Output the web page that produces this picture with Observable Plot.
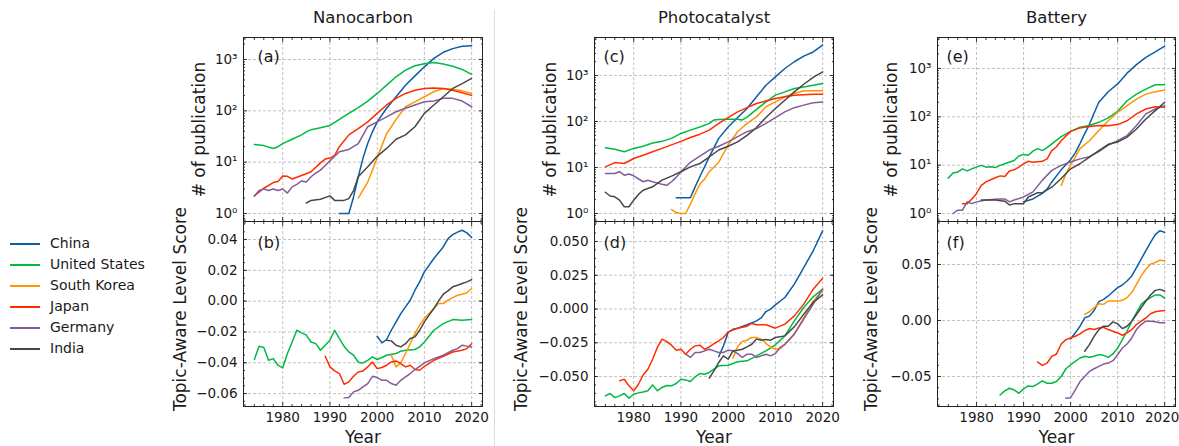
<!DOCTYPE html>
<html><head><meta charset="utf-8">
<script src="https://cdn.jsdelivr.net/npm/d3@7"></script>
<script src="https://cdn.jsdelivr.net/npm/@observablehq/plot@0.6"></script>
<style>
body{margin:0;background:#fff;font-family:"DejaVu Sans",sans-serif;color:#1a1a1a;}
#root{position:relative;width:1179px;height:446px;overflow:hidden;background:#fff;}
.pan{position:absolute;}
.sep{position:absolute;left:494px;top:10px;width:1px;height:436px;background:#dcdcdc;}
.leg{position:absolute;left:10px;font-size:14px;line-height:14px;}
.leg .sw{position:absolute;left:0;width:30px;height:2px;}
.leg .lb{position:absolute;left:40px;white-space:nowrap;}
</style></head><body><div id="root"><div class="sep"></div></div><script>
const countries = ["China","United States","South Korea","Japan","Germany","India"];
const colors = ["#0C5DA5","#00B945","#FF9500","#FF2C00","#845B97","#474747"];
const columnTitles = ["Nanocarbon","Photocatalyst","Battery"];
const panelLetters = [["(a)","(b)"],["(c)","(d)"],["(e)","(f)"]];
const xTicks = [1980,1990,2000,2010,2020];
const logTicks = [1,10,100,1000];
const logTickLabels = ["10⁰","10¹","10²","10³"];
const nanoScoreTicks = [-0.06,-0.04,-0.02,0,0.02,0.04];
const photoScoreTicks = [-0.05,-0.025,0,0.025,0.05];
const batteryScoreTicks = [-0.05,0,0.05];
const pubLabel = "# of publication";
const scoreLabel = "Topic-Aware Level Score";
const xLabel = "Year";

// (a) Nanocarbon: number of publications
const nanoPub = {
  "China": [[1992,1],[1994,1],[1995,2.1],[1996,5.2],[1997,12],[1998,23],[1999,39],[2000,61],[2002,112],[2004,188],[2006,316],[2008,480],[2010,720],[2012,1050],[2014,1380],[2016,1630],[2018,1820],[2020,1850]],
  "United States": [[1974,22],[1976,21],[1978,18.5],[1979,20],[1980,23],[1982,28],[1984,34],[1985,39],[1986,43],[1988,47],[1990,52],[1992,68],[1994,89],[1996,115],[1998,155],[2000,218],[2002,316],[2004,460],[2006,620],[2008,755],[2010,830],[2012,870],[2014,815],[2016,740],[2018,640],[2020,515]],
  "South Korea": [[1996,2],[1998,4.1],[1999,7],[2000,12],[2001,21],[2002,36],[2003,49],[2004,68],[2006,120],[2008,150],[2010,188],[2012,235],[2014,273],[2016,262],[2018,245],[2020,218]],
  "Japan": [[1974,2.2],[1976,3.1],[1978,4],[1979,4.2],[1980,5.4],[1981,5.3],[1982,4.7],[1984,5.5],[1986,6.5],[1988,9.7],[1989,11.5],[1990,12],[1991,13.5],[1992,20],[1994,34],[1996,45],[1998,61],[2000,89],[2002,130],[2004,175],[2006,218],[2008,252],[2010,273],[2012,280],[2014,273],[2016,252],[2018,225],[2020,200]],
  "Germany": [[1974,2.2],[1975,2.8],[1976,3],[1977,2.8],[1978,3],[1979,2.8],[1980,3],[1981,2.5],[1982,3.3],[1983,3.7],[1984,4.3],[1985,4.1],[1986,5.2],[1987,6.1],[1988,7],[1989,8.6],[1990,10.6],[1991,13],[1992,16],[1994,17.7],[1996,23],[1998,49],[2000,61],[2002,76],[2004,96],[2006,112],[2008,130],[2010,150],[2012,156],[2014,175],[2016,175],[2018,155],[2020,120]],
  "India": [[1985,1.6],[1986,1.8],[1988,1.9],[1990,2.2],[1991,1.8],[1993,1.8],[1994,1.95],[1995,2.8],[1996,5.2],[1998,8.1],[2000,13],[2002,18.5],[2004,28],[2006,34],[2008,49],[2010,89],[2012,130],[2014,188],[2016,273],[2018,340],[2020,430]]
};
// (b) Nanocarbon: topic-aware level score
const nanoScore = {
  "China": [[2000,-0.0228],[2001,-0.0271],[2002,-0.0249],[2003,-0.0189],[2004,-0.0135],[2005,-0.0081],[2006,-0.0037],[2007,0.0006],[2008,0.0071],[2009,0.0125],[2010,0.019],[2012,0.0277],[2014,0.0352],[2015,0.0406],[2016,0.0432],[2017,0.0448],[2018,0.046],[2019,0.0443],[2020,0.0413]],
  "United States": [[1974,-0.0379],[1975,-0.0293],[1976,-0.0301],[1977,-0.0384],[1978,-0.0373],[1979,-0.0416],[1980,-0.0433],[1981,-0.034],[1982,-0.0265],[1983,-0.0189],[1984,-0.0206],[1985,-0.0221],[1986,-0.0265],[1987,-0.0276],[1988,-0.0319],[1989,-0.0286],[1990,-0.0254],[1991,-0.0189],[1992,-0.0243],[1993,-0.0293],[1994,-0.033],[1995,-0.0351],[1996,-0.0397],[1997,-0.0401],[1998,-0.0384],[1999,-0.0362],[2000,-0.0379],[2001,-0.0366],[2002,-0.0351],[2004,-0.034],[2005,-0.0325],[2006,-0.0319],[2008,-0.0314],[2009,-0.0297],[2010,-0.0265],[2012,-0.0189],[2014,-0.0146],[2016,-0.012],[2018,-0.0124],[2020,-0.012]],
  "South Korea": [[2003,-0.0351],[2004,-0.0427],[2005,-0.0401],[2006,-0.034],[2007,-0.0276],[2008,-0.021],[2009,-0.0156],[2010,-0.0113],[2011,-0.0081],[2012,-0.0048],[2013,-0.0016],[2014,-0.0016],[2015,0.0006],[2016,0.0023],[2017,0.0038],[2018,0.0045],[2019,0.0054],[2020,0.0082]],
  "Japan": [[1989,-0.0358],[1990,-0.0427],[1991,-0.0453],[1992,-0.047],[1993,-0.054],[1994,-0.0524],[1995,-0.0488],[1996,-0.046],[1997,-0.0453],[1998,-0.0427],[1999,-0.0395],[2000,-0.0438],[2001,-0.0431],[2002,-0.0416],[2003,-0.0395],[2004,-0.0388],[2005,-0.0405],[2006,-0.0427],[2007,-0.0416],[2008,-0.0444],[2009,-0.0449],[2010,-0.0423],[2012,-0.0384],[2014,-0.0358],[2016,-0.033],[2018,-0.0319],[2019,-0.0308],[2020,-0.0276]],
  "Germany": [[1993,-0.0628],[1994,-0.0626],[1995,-0.0589],[1996,-0.0579],[1997,-0.0557],[1998,-0.0535],[1999,-0.0488],[2000,-0.0496],[2001,-0.0514],[2002,-0.0514],[2003,-0.0535],[2004,-0.0546],[2005,-0.0514],[2006,-0.0492],[2007,-0.047],[2008,-0.0444],[2009,-0.0423],[2010,-0.0401],[2012,-0.0373],[2014,-0.0351],[2016,-0.0319],[2017,-0.0308],[2018,-0.0286],[2019,-0.0292],[2020,-0.0297]],
  "India": [[2002,-0.0254],[2003,-0.0258],[2004,-0.0286],[2005,-0.0297],[2006,-0.0276],[2007,-0.0243],[2008,-0.0232],[2009,-0.0189],[2010,-0.0135],[2011,-0.0091],[2012,-0.0048],[2013,0.0002],[2014,0.0045],[2015,0.0067],[2016,0.0093],[2017,0.0103],[2018,0.0114],[2019,0.0125],[2020,0.014]]
};
// (c) Photocatalyst: number of publications
const photoPub = {
  "China": [[1989,2.2],[1992,2.2],[1993,3.8],[1994,6.3],[1996,17],[1998,43],[2000,76],[2002,122],[2004,192],[2006,345],[2008,615],[2010,935],[2012,1420],[2014,1990],[2016,2640],[2018,3250],[2020,4570]],
  "United States": [[1974,27],[1976,25],[1978,22],[1980,26],[1982,29],[1984,34],[1986,37],[1988,43],[1990,55],[1992,65],[1994,76],[1996,91],[1997,108],[1998,110],[2000,112],[2002,112],[2003,108],[2004,125],[2006,183],[2008,267],[2010,374],[2012,440],[2014,520],[2016,565],[2018,615],[2020,670]],
  "South Korea": [[1988,1.22],[1989,1.05],[1990,1],[1991,1],[1992,1.6],[1993,2.7],[1994,4.3],[1995,5.6],[1996,8.1],[1998,13],[2000,31],[2002,60],[2004,91],[2006,126],[2008,209],[2010,267],[2012,345],[2014,405],[2016,465],[2018,465],[2020,465]],
  "Japan": [[1974,10.3],[1976,12.8],[1978,12.2],[1980,15.7],[1982,18.5],[1984,22],[1986,26],[1988,31],[1990,37],[1992,45],[1994,53],[1996,65],[1998,91],[2000,122],[2002,162],[2004,200],[2006,246],[2008,280],[2010,316],[2012,345],[2014,370],[2016,380],[2018,390],[2020,390]],
  "Germany": [[1974,7.4],[1976,7.4],[1977,8.1],[1978,6.8],[1979,7.2],[1980,6.6],[1982,4.9],[1983,5.3],[1984,4.9],[1986,4.3],[1987,4.1],[1988,4.9],[1989,6.1],[1990,8.1],[1992,13],[1994,17.7],[1996,24],[1998,29],[2000,36],[2002,47],[2004,60],[2006,70],[2008,91],[2010,122],[2012,162],[2014,200],[2016,227],[2018,255],[2020,267]],
  "India": [[1974,2.9],[1975,2.4],[1976,2.3],[1977,1.95],[1978,1.4],[1979,1.4],[1980,1.95],[1981,2.6],[1982,3.2],[1984,3.8],[1986,5.3],[1988,6.5],[1990,8.1],[1992,10.3],[1994,12.2],[1996,17],[1998,24],[2000,29],[2002,36],[2004,50],[2006,74],[2008,122],[2010,192],[2012,290],[2014,440],[2016,645],[2018,910],[2020,1200]]
};
// (d) Photocatalyst: topic-aware level score
const photoScore = {
  "China": [[1998,-0.0354],[1999,-0.0273],[2000,-0.0174],[2001,-0.015],[2002,-0.0142],[2004,-0.0117],[2006,-0.0088],[2007,-0.0065],[2008,-0.0019],[2009,-0.0001],[2010,0.0031],[2012,0.0085],[2014,0.0184],[2016,0.0307],[2018,0.0431],[2020,0.0579]],
  "United States": [[1974,-0.0643],[1975,-0.0626],[1976,-0.0656],[1977,-0.0643],[1978,-0.0626],[1979,-0.066],[1980,-0.0631],[1981,-0.0621],[1982,-0.0614],[1983,-0.0606],[1984,-0.0562],[1985,-0.0606],[1986,-0.0581],[1987,-0.0567],[1988,-0.0569],[1989,-0.0552],[1990,-0.052],[1991,-0.0525],[1992,-0.0537],[1993,-0.0502],[1994,-0.0478],[1995,-0.0483],[1996,-0.047],[1997,-0.0446],[1998,-0.0421],[2000,-0.0416],[2002,-0.0391],[2004,-0.0384],[2006,-0.0347],[2008,-0.031],[2010,-0.0265],[2012,-0.0199],[2014,-0.0088],[2016,0.0011],[2018,0.009],[2020,0.0147]],
  "South Korea": [[2001,-0.0364],[2002,-0.028],[2003,-0.0241],[2004,-0.0231],[2005,-0.0211],[2006,-0.0211],[2007,-0.0223],[2008,-0.0256],[2009,-0.028],[2010,-0.0298],[2011,-0.0293],[2012,-0.0265],[2014,-0.0186],[2016,-0.0063],[2018,0.006],[2020,0.0135]],
  "Japan": [[1977,-0.0532],[1978,-0.052],[1979,-0.0569],[1980,-0.0606],[1981,-0.0557],[1982,-0.0488],[1983,-0.0446],[1984,-0.0372],[1985,-0.0285],[1986,-0.0223],[1987,-0.0241],[1988,-0.0268],[1989,-0.0305],[1990,-0.0298],[1991,-0.0335],[1992,-0.0298],[1993,-0.0273],[1994,-0.0268],[1995,-0.0298],[1996,-0.028],[1997,-0.0256],[1998,-0.0236],[1999,-0.0211],[2000,-0.0169],[2002,-0.0142],[2004,-0.0127],[2005,-0.0107],[2006,-0.0117],[2008,-0.0117],[2010,-0.0142],[2012,-0.0112],[2014,-0.0051],[2016,0.0036],[2018,0.0147],[2020,0.0228]],
  "Germany": [[1991,-0.0335],[1992,-0.0359],[1993,-0.0322],[1994,-0.0322],[1995,-0.031],[1996,-0.0298],[1997,-0.031],[1998,-0.0322],[1999,-0.0322],[2000,-0.0305],[2001,-0.031],[2002,-0.033],[2003,-0.0359],[2004,-0.0335],[2005,-0.0335],[2006,-0.0359],[2007,-0.0347],[2008,-0.0335],[2009,-0.0347],[2010,-0.033],[2011,-0.0285],[2012,-0.0261],[2014,-0.0186],[2016,-0.0075],[2018,0.0036],[2020,0.0147]],
  "India": [[1996,-0.0512],[1997,-0.0458],[1998,-0.0396],[1999,-0.0347],[2000,-0.0372],[2001,-0.031],[2002,-0.0305],[2003,-0.0298],[2004,-0.028],[2005,-0.0261],[2006,-0.0223],[2007,-0.0231],[2008,-0.0226],[2009,-0.0231],[2010,-0.0211],[2012,-0.0199],[2014,-0.0132],[2016,-0.0038],[2018,0.0048],[2020,0.0105]]
};
// (e) Battery: number of publications
const batteryPub = {
  "China": [[1990,1.75],[1992,2],[1994,2.6],[1995,3.2],[1996,4.5],[1997,6],[1998,8],[2000,13],[2001,18],[2002,28],[2003,45],[2004,70],[2005,120],[2006,200],[2008,330],[2010,480],[2012,800],[2014,1200],[2016,1700],[2018,2200],[2020,2900]],
  "United States": [[1974,5.4],[1975,6.9],[1976,7.2],[1977,8.4],[1978,7.6],[1979,8.4],[1980,9.1],[1981,9.9],[1982,9.1],[1983,9.3],[1984,8.9],[1985,9.9],[1986,10.7],[1988,12.5],[1989,15.5],[1990,16.7],[1991,16],[1992,19.5],[1993,22],[1994,20],[1995,23],[1996,27.5],[1998,39],[2000,50],[2002,61],[2004,66],[2006,77],[2008,95],[2010,130],[2012,215],[2014,295],[2016,375],[2018,460],[2020,460]],
  "South Korea": [[1998,3.8],[1999,6.6],[2000,10],[2001,14.7],[2002,22],[2004,32],[2006,52],[2008,83],[2010,124],[2012,170],[2014,233],[2016,295],[2018,330],[2020,360]],
  "Japan": [[1977,1.6],[1978,1.6],[1979,2],[1980,2.6],[1981,3.8],[1982,4.5],[1983,5],[1984,5.5],[1985,6],[1986,5.8],[1987,7.6],[1988,8],[1989,9.1],[1990,10.7],[1991,12],[1992,11.5],[1994,12],[1995,13.5],[1996,20],[1997,24],[1998,32],[2000,50],[2002,59],[2004,63],[2006,66],[2008,65],[2010,69],[2012,83],[2014,115],[2016,145],[2018,162],[2020,158]],
  "Germany": [[1975,1],[1976,1.17],[1977,1.17],[1978,1.74],[1979,1.6],[1980,1.74],[1982,1.9],[1984,1.97],[1985,2],[1986,2],[1987,1.74],[1988,1.9],[1990,2.2],[1992,2.8],[1994,4.9],[1996,7.8],[1998,9.9],[2000,11.6],[2002,13.5],[2004,15],[2006,19],[2008,26],[2010,32],[2012,41],[2014,66],[2016,115],[2018,145],[2020,170]],
  "India": [[1981,1.9],[1982,1.9],[1984,1.9],[1986,1.8],[1987,1.5],[1988,1.6],[1990,1.6],[1991,2.2],[1993,2.7],[1994,2.7],[1996,3.5],[1998,5.3],[2000,8.4],[2002,10.7],[2004,14.7],[2006,20],[2008,27],[2010,30],[2012,38],[2014,56],[2016,90],[2018,134],[2020,200]]
};
// (f) Battery: topic-aware level score
const batteryScore = {
  "China": [[2000,-0.0165],[2001,-0.011],[2002,-0.0051],[2003,0.0024],[2004,0.0039],[2005,0.009],[2006,0.0168],[2007,0.0189],[2008,0.0219],[2009,0.0257],[2010,0.0293],[2011,0.0317],[2012,0.0353],[2013,0.0398],[2014,0.0473],[2015,0.0548],[2016,0.0623],[2017,0.0698],[2018,0.0767],[2019,0.0802],[2020,0.0787]],
  "United States": [[1985,-0.0665],[1986,-0.0629],[1987,-0.0605],[1988,-0.062],[1989,-0.065],[1990,-0.0611],[1991,-0.0584],[1992,-0.059],[1993,-0.0566],[1994,-0.0539],[1995,-0.056],[1996,-0.056],[1997,-0.0545],[1998,-0.05],[1999,-0.0431],[2000,-0.0395],[2001,-0.0365],[2002,-0.0335],[2003,-0.032],[2004,-0.0329],[2005,-0.032],[2006,-0.0305],[2007,-0.0311],[2008,-0.0329],[2009,-0.0299],[2010,-0.0246],[2011,-0.0171],[2012,-0.0096],[2013,-0.0006],[2014,0.0069],[2015,0.0144],[2016,0.018],[2017,0.0204],[2018,0.0228],[2019,0.0228],[2020,0.0198]],
  "South Korea": [[2003,0.0054],[2004,0.0078],[2005,0.0114],[2006,0.015],[2007,0.0144],[2008,0.0174],[2010,0.0174],[2011,0.018],[2012,0.0204],[2013,0.0249],[2014,0.0323],[2015,0.0398],[2016,0.0458],[2017,0.0503],[2018,0.0518],[2019,0.0539],[2020,0.0533]],
  "Japan": [[1993,-0.0371],[1994,-0.0401],[1995,-0.038],[1996,-0.032],[1997,-0.0299],[1998,-0.021],[1999,-0.0171],[2000,-0.0156],[2001,-0.0141],[2002,-0.012],[2003,-0.009],[2004,-0.0072],[2005,-0.0081],[2006,-0.0066],[2007,-0.006],[2008,-0.0081],[2009,-0.0096],[2010,-0.0111],[2011,-0.0132],[2012,-0.0111],[2013,-0.0081],[2014,-0.0036],[2015,-0.0006],[2016,0.0024],[2017,0.006],[2018,0.0078],[2019,0.0084],[2020,0.009]],
  "Germany": [[1999,-0.0695],[2000,-0.0689],[2001,-0.062],[2002,-0.0545],[2003,-0.05],[2004,-0.0455],[2005,-0.0431],[2006,-0.041],[2007,-0.0389],[2008,-0.038],[2009,-0.0359],[2010,-0.0305],[2011,-0.0246],[2012,-0.021],[2013,-0.0156],[2014,-0.0081],[2015,-0.0036],[2016,-0.0006],[2017,-0.0006],[2018,-0.0012],[2019,-0.0021],[2020,-0.0021]],
  "India": [[2003,-0.0275],[2004,-0.0216],[2005,-0.0141],[2006,-0.0081],[2007,-0.0051],[2008,-0.0051],[2009,-0.0012],[2010,-0.003],[2011,-0.0072],[2012,-0.0051],[2013,-0.0006],[2014,0.0054],[2015,0.0114],[2016,0.0174],[2017,0.0228],[2018,0.0269],[2019,0.0278],[2020,0.0263]]
};

const root = document.getElementById("root");
const xDomain = [1971.7, 2022.3];
const xMinor = d3.range(1972, 2023, 2).filter(v => v % 10 !== 0);
function logMinor(dom) {
  const out = [];
  for (let e = -1; e <= 4; e++) for (let k = 2; k <= 9; k++) {
    const v = k * Math.pow(10, e);
    if (v >= dom[0] && v <= dom[1]) out.push(v);
  }
  return out;
}
function linMinor(dom, step) {
  const out = [];
  const s = Math.ceil(dom[0] / step), e = Math.floor(dom[1] / step);
  for (let i = s; i <= e; i++) out.push(+(i * step).toFixed(6));
  return out;
}
const fmtLog = d => logTickLabels[logTicks.indexOf(d)];
const gridStyle = {stroke: "#b4b4b4", strokeOpacity: 1, strokeDasharray: "3,2", strokeWidth: 0.8};
const tickStyle = {label: null, tickFormat: () => "", stroke: "#222", strokeWidth: 0.9};

function panel(o) {
  const {series, left, top, mL, mR, mT, mB, fw, fh, yType, yDomain, yTicks, yMinor, yFmt, letter, ldx, ldy, bottom, lastDx, title, ylabel, ylDx, ylDy} = o;
  const marks = [
    Plot.gridX(xTicks, gridStyle),
    Plot.gridY(yTicks, gridStyle),
    ...countries.map((c, i) => Plot.line(series[c], {x: d => d[0], y: d => d[1], stroke: colors[i], strokeWidth: 1.5})),
    Plot.frame({stroke: "#222", strokeWidth: 1}),
    Plot.axisX(xTicks, {...tickStyle, anchor: "bottom", tickSize: -4}),
    Plot.axisX(xMinor, {...tickStyle, anchor: "bottom", tickSize: -2}),
    Plot.axisX(xTicks, {...tickStyle, anchor: "top", tickSize: -4}),
    Plot.axisX(xMinor, {...tickStyle, anchor: "top", tickSize: -2}),
    Plot.axisY(yTicks, {...tickStyle, anchor: "left", tickSize: -4}),
    Plot.axisY(yMinor, {...tickStyle, anchor: "left", tickSize: -2}),
    Plot.axisY(yTicks, {...tickStyle, anchor: "right", tickSize: -4}),
    Plot.axisY(yMinor, {...tickStyle, anchor: "right", tickSize: -2}),
    Plot.axisY(yTicks, {anchor: "left", tickSize: 0, tickPadding: 6, tickFormat: yFmt, label: null, fontSize: 13.5}),
    Plot.text([letter], {text: d => d, frameAnchor: "top-left", dx: ldx, dy: ldy, fontSize: 16, textAnchor: "start", lineAnchor: "middle"}),
    Plot.text([ylabel], {text: d => d, frameAnchor: "left", dx: ylDx, dy: ylDy, rotate: -90, fontSize: 17, textAnchor: "middle", lineAnchor: "middle"})
  ];
  if (bottom) {
    const lastTick = xTicks[xTicks.length - 1];
    marks.push(Plot.axisX(xTicks.slice(0, -1), {anchor: "bottom", tickSize: 0, tickPadding: 5.5, tickFormat: d => String(d), label: null, fontSize: 13.5}));
    marks.push(Plot.axisX([lastTick], {anchor: "bottom", tickSize: 0, tickPadding: 5.5, tickFormat: d => String(d), label: null, fontSize: 13.5, dx: lastDx}));
    marks.push(Plot.text([xLabel], {text: d => d, frameAnchor: "bottom", dy: 31, fontSize: 17, textAnchor: "middle", lineAnchor: "middle"}));
  }
  if (title) marks.push(Plot.text([title], {text: d => d, frameAnchor: "top", dy: -20, fontSize: 16.5, textAnchor: "middle", lineAnchor: "middle"}));
  const svg = Plot.plot({
    width: fw + mL + mR, height: fh + mT + mB,
    marginLeft: mL, marginRight: mR, marginTop: mT, marginBottom: mB,
    x: {domain: xDomain},
    y: {type: yType, domain: yDomain},
    style: {fontFamily: "DejaVu Sans", fontSize: "13.5px", color: "#1a1a1a", background: "transparent", overflow: "visible"},
    marks
  });
  const div = document.createElement("div");
  div.className = "pan";
  div.style.left = (left - mL) + "px";
  div.style.top = (top - mT) + "px";
  div.appendChild(svg);
  root.appendChild(div);
}

const cols = [
  {left: 243, fw: 239, mL: 93, mR: 8, lastDx: 0, pub: nanoPub, score: nanoScore, pubDom: [0.698, 2683], scoreDom: [-0.0684, 0.0517], scoreTicks: nanoScoreTicks, scoreStep: 0.005, scoreFmt: d3.format(".2f"), ldx: 14, pubDx: -44, scoreDx: -63},
  {left: 594, fw: 239, mL: 97, mR: 4, lastDx: 0, pub: photoPub, score: photoScore, pubDom: [0.67, 6700], scoreDom: [-0.0722, 0.0648], scoreTicks: photoScoreTicks, scoreStep: 0.00625, scoreFmt: d3.format(".3f"), ldx: 9, pubDx: -44, scoreDx: -73},
  {left: 937, fw: 238, mL: 97, mR: 4, lastDx: -2.5, pub: batteryPub, score: batteryScore, pubDom: [0.683, 4375], scoreDom: [-0.0768, 0.0884], scoreTicks: batteryScoreTicks, scoreStep: 0.01, scoreFmt: d3.format(".2f"), ldx: 9, pubDx: -45.5, scoreDx: -66}
];
cols.forEach((c, i) => {
  panel({series: c.pub, left: c.left, top: 37, mL: c.mL, mR: c.mR, mT: 37, mB: 1, fw: c.fw, fh: 184,
    yType: "log", yDomain: c.pubDom, yTicks: logTicks, yMinor: logMinor(c.pubDom), yFmt: fmtLog,
    letter: panelLetters[i][0], ldx: c.ldx, ldy: 19, bottom: false, lastDx: 0, title: columnTitles[i],
    ylabel: pubLabel, ylDx: c.pubDx, ylDy: 0});
  panel({series: c.score, left: c.left, top: 221, mL: c.mL, mR: c.mR, mT: 1, mB: 40, fw: c.fw, fh: 185,
    yType: "linear", yDomain: c.scoreDom, yTicks: c.scoreTicks, yMinor: linMinor(c.scoreDom, c.scoreStep), yFmt: c.scoreFmt,
    letter: panelLetters[i][1], ldx: c.ldx, ldy: 21, bottom: true, lastDx: c.lastDx, title: null,
    ylabel: scoreLabel, ylDx: c.scoreDx, ylDy: -5});
});

// legend
const legendY = [244, 265, 286, 307, 328, 349];
countries.forEach((c, i) => {
  const row = document.createElement("div");
  row.className = "leg";
  row.style.top = legendY[i] + "px";
  const sw = document.createElement("div");
  sw.className = "sw"; sw.style.background = colors[i]; sw.style.top = "-1px";
  const lb = document.createElement("div");
  lb.className = "lb"; lb.textContent = c; lb.style.top = "-8px";
  row.appendChild(sw); row.appendChild(lb);
  root.appendChild(row);
});
</script></body></html>
